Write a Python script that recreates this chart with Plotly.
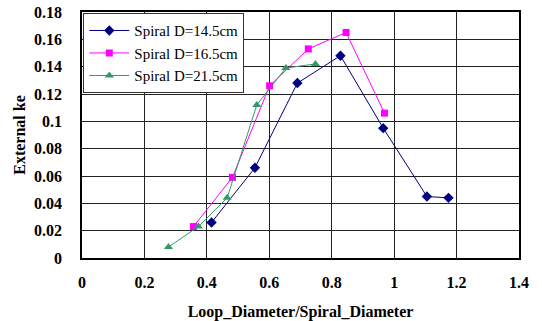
import plotly.graph_objects as go

x1 = [0.415, 0.554, 0.690, 0.828, 0.965, 1.105, 1.174]
y1 = [0.026, 0.066, 0.128, 0.148, 0.095, 0.045, 0.044]
x2 = [0.357, 0.482, 0.601, 0.725, 0.846, 0.969]
y2 = [0.023, 0.059, 0.126, 0.153, 0.165, 0.106]
x3 = [0.277, 0.373, 0.465, 0.560, 0.653, 0.748]
y3 = [0.008, 0.023, 0.044, 0.112, 0.139, 0.142]
names = ["Spiral D=14.5cm", "Spiral D=16.5cm", "Spiral D=21.5cm"]
xticks = [0, 0.2, 0.4, 0.6, 0.8, 1, 1.2, 1.4]
xticklabels = ["0", "0.2", "0.4", "0.6", "0.8", "1", "1.2", "1.4"]
yticks = [0, 0.02, 0.04, 0.06, 0.08, 0.1, 0.12, 0.14, 0.16, 0.18]
yticklabels = ["0", "0.02", "0.04", "0.06", "0.08", "0.1", "0.12", "0.14", "0.16", "0.18"]

font = "Liberation Serif, Times New Roman, serif"

fig = go.Figure()
fig.add_trace(go.Scatter(x=x1, y=y1, name=names[0], mode="lines+markers",
                         line=dict(color="#000080", width=1),
                         marker=dict(symbol="diamond", size=8, color="#000080")))
fig.add_trace(go.Scatter(x=x2, y=y2, name=names[1], mode="lines+markers",
                         line=dict(color="#FF00FF", width=1),
                         marker=dict(symbol="square", size=7, color="#FF00FF")))
fig.add_trace(go.Scatter(x=x3, y=y3, name=names[2], mode="lines+markers",
                         line=dict(color="#339966", width=1),
                         marker=dict(symbol="triangle-up", size=8, color="#339966")))

fig.update_layout(
    width=542, height=321,
    margin=dict(l=82, r=23, t=12, b=63),
    paper_bgcolor="white", plot_bgcolor="white",
    font=dict(family=font, color="black", size=13),
    legend=dict(x=0.003, y=0.995, xanchor="left", yanchor="top",
                bgcolor="white", bordercolor="#333333", borderwidth=1,
                font=dict(family=font, size=15, color="black"),
                tracegroupgap=0, itemwidth=40),
    xaxis=dict(range=[0, 1.4], tickvals=xticks, ticktext=xticklabels,
               showgrid=True, gridcolor="#222222", gridwidth=1,
               showline=True, linecolor="black", linewidth=1.5, mirror=True,
               ticks="", ticklabelstandoff=9, zeroline=False, automargin=False,
               tickfont=dict(family=font, size=16, color="black", weight="bold"),
               title=dict(text="<b>Loop_Diameter/Spiral_Diameter</b>",
                          font=dict(family=font, size=16, color="black"), standoff=20)),
    yaxis=dict(range=[0, 0.18], tickvals=yticks, ticktext=yticklabels,
               showgrid=True, gridcolor="#222222", gridwidth=1,
               showline=True, linecolor="black", linewidth=1.5, mirror=True,
               ticks="", ticklabelstandoff=15, zeroline=False, automargin=False,
               tickfont=dict(family=font, size=16, color="black", weight="bold"),
               title=dict(text="<b>External ke</b>",
                          font=dict(family=font, size=16, color="black"), standoff=4)),
)

fig.write_html("out.html")
